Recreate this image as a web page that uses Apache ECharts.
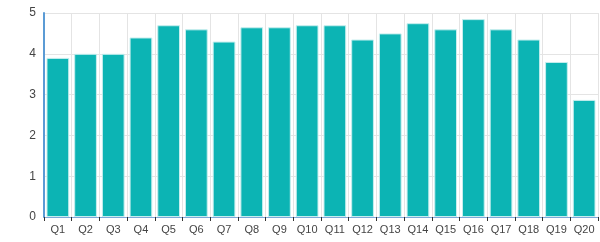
<!DOCTYPE html>
<html><head><meta charset="utf-8">
<script src="https://cdn.jsdelivr.net/npm/echarts@6/dist/echarts.min.js"></script>
<style>html,body{margin:0;padding:0;background:#fff}#c{width:600px;height:242px}</style>
</head><body><div id="c"></div>
<script>
const categories = ['Q1','Q2','Q3','Q4','Q5','Q6','Q7','Q8','Q9','Q10','Q11','Q12','Q13','Q14','Q15','Q16','Q17','Q18','Q19','Q20'];
const values = [3.9,4.0,4.0,4.4,4.7,4.6,4.3,4.65,4.65,4.7,4.7,4.35,4.5,4.75,4.6,4.85,4.6,4.35,3.8,2.87];
const yTicks = [0,1,2,3,4,5];

const chart = echarts.init(document.getElementById('c'));
chart.setOption({
  animation:false,
  grid:{left:44,right:2,top:13,bottom:25},
  xAxis:{type:'category',data:categories,
    axisLine:{lineStyle:{color:'#7fa8d8',width:1}},
    axisTick:{show:true,lineStyle:{color:'#333'},length:4},
    axisLabel:{color:'#444',fontSize:11,fontFamily:'Liberation Sans',margin:7,interval:0},
    splitLine:{show:true,lineStyle:{color:'#e4e4e4'}}},
  yAxis:{type:'value',min:yTicks[0],max:yTicks[yTicks.length-1],interval:1,
    axisLine:{show:true,lineStyle:{color:'#5b9bd5',width:2}},
    axisTick:{show:false},
    axisLabel:{color:'#444',fontSize:12,fontFamily:'Liberation Sans',margin:8},
    splitLine:{lineStyle:{color:'#e4e4e4'}}},
  series:[{type:'bar',data:values,barCategoryGap:'18%',
    itemStyle:{color:'#0cb4b4',borderColor:'#c6eeee',borderWidth:1}}]
});
</script></body></html>
